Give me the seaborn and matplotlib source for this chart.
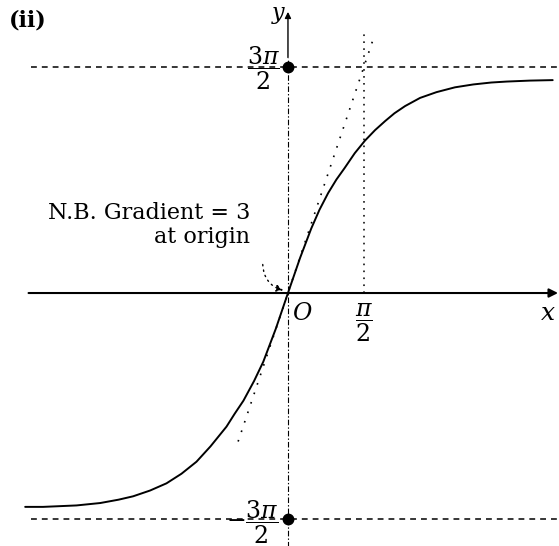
import numpy as np
import pandas as pd
import matplotlib
matplotlib.use("Agg")
import matplotlib.pyplot as plt
import seaborn as sns
from matplotlib.patches import FancyArrowPatch

# Points (x, y)
curve_x = [-5.43, -5.06, -4.37, -3.88, -3.50, -3.20, -2.85, -2.51, -2.20, -1.89,
           -1.60, -1.27, -1.10, -0.92, -0.70, -0.51, -0.25, 0.00,
           0.25, 0.48, 0.65, 0.83, 1.00, 1.17, 1.38, 1.59, 1.80, 2.01,
           2.20, 2.42, 2.73, 3.07, 3.45, 3.83, 4.20, 4.52, 5.00, 5.47]
curve_y = [-4.45, -4.45, -4.42, -4.37, -4.30, -4.23, -4.11, -3.96, -3.76, -3.51,
           -3.19, -2.78, -2.51, -2.24, -1.83, -1.43, -0.74, 0.00,
           0.73, 1.34, 1.73, 2.08, 2.36, 2.60, 2.91, 3.17, 3.39, 3.58,
           3.74, 3.89, 4.06, 4.18, 4.28, 4.34, 4.38, 4.40, 4.42, 4.43]

asymptote = 3 * np.pi / 2          # horizontal asymptotes y = ±3π/2
tangent_x = [-1.03, 1.78]           # extent of the tangent at the origin
tangent_gradient = 3
half_pi = np.pi / 2                 # position of the x-axis marker π/2
guide_top = 5.4                     # top of the dotted guide at x = π/2

df = pd.DataFrame({"x": curve_x, "y": curve_y})

sns.set_theme(style="white")
plt.rcParams["font.family"] = ["DejaVu Serif"]
plt.rcParams["mathtext.fontset"] = "dejavuserif"
plt.rcParams["text.color"] = "black"
plt.rcParams["lines.scale_dashes"] = False

fig = plt.figure(figsize=(5.59, 5.46), dpi=100)
ax = fig.add_axes([0, 0, 1, 1])
ax.set_xlim(-5.95, 5.6)
ax.set_ylim(-5.264, 6.097)
ax.axis("off")


def P(px, py):
    """Convert pixel position to data coordinates."""
    return (px - 288) / 48.4, (293 - py) / 48.06


# asymptotes
for yv in (asymptote, -asymptote):
    ax.plot([-5.3, 5.55], [yv, yv], color="black", lw=1.1, ls=(0, (4.2, 3.6)))

# x-axis
ax.annotate("", xy=(5.58, 0), xytext=(-5.36, 0),
            arrowprops=dict(arrowstyle="-|>", lw=1.5, color="black",
                            mutation_scale=13, shrinkA=0, shrinkB=0))
# y-axis: dash-dot below, solid arrow stub at top
ax.plot([0, 0], [-5.3, 4.9], color="black", lw=0.8, ls=(0, (4, 1.5, 1, 1.5)))
ax.annotate("", xy=(0, 5.85), xytext=(0, 4.9),
            arrowprops=dict(arrowstyle="-|>", lw=1.0, color="black",
                            mutation_scale=9, shrinkA=0, shrinkB=0))

# tangent at origin
tx = np.array(tangent_x)
ax.plot(tx, tangent_gradient * tx, color="black", lw=1.2, ls=(0, (1.2, 6)))

# dotted guide at x = π/2
ax.plot([half_pi, half_pi], [0, guide_top], color="black", lw=1.1, ls=(0, (1.2, 3.8)))

# the curve
sns.lineplot(data=df, x="x", y="y", ax=ax, color="black", lw=1.4, sort=False)

# points on the y-axis
ax.plot([0, 0], [asymptote, -asymptote], "o", color="black", ms=7.5)

# labels
ax.text(*P(9, 20), "(ii)", fontsize=16, fontweight="bold", ha="left", va="center")
ax.text(*P(279, 15), "$y$", fontsize=16, ha="center", va="center")
ax.text(*P(263, 68), r"$\dfrac{3\pi}{2}$", fontsize=17, ha="center", va="center")
ax.text(*P(252, 522), r"$-\dfrac{3\pi}{2}$", fontsize=17, ha="center", va="center")
ax.text(*P(302, 313), "$O$", fontsize=17, ha="center", va="center")
ax.text(*P(364, 323), r"$\dfrac{\pi}{2}$", fontsize=17, ha="center", va="center")
ax.text(*P(548, 313), "$x$", fontsize=18, ha="center", va="center")
ax.text(*P(250, 213), "N.B. Gradient = 3", fontsize=16, ha="right", va="center")
ax.text(*P(250, 237), "at origin", fontsize=16, ha="right", va="center")

arrow = FancyArrowPatch(P(262.7, 261.7), P(286, 291),
                        connectionstyle="arc3,rad=0.4", arrowstyle="-|>",
                        mutation_scale=10, lw=1.0, ls=(0, (1, 3)), color="black")
ax.add_patch(arrow)

fig.savefig("out.png", dpi=100, facecolor="white")
